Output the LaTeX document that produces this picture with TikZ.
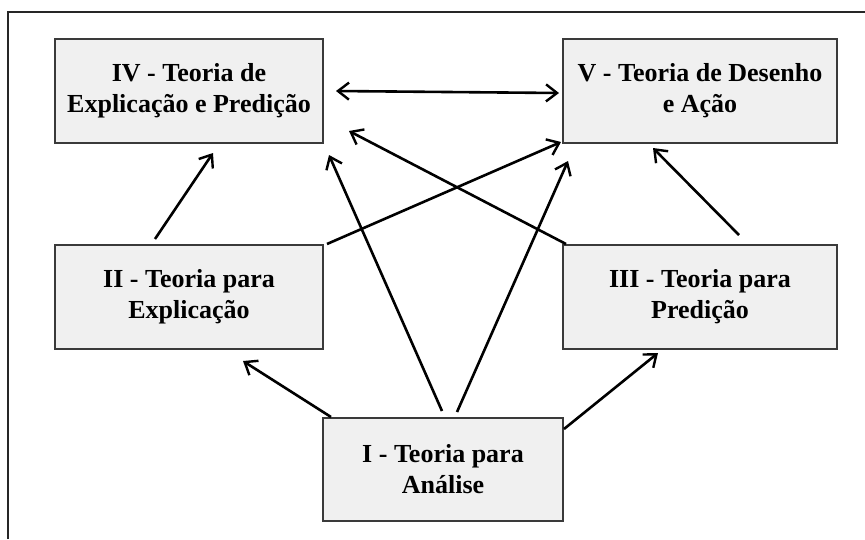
\documentclass[tikz,border=0pt]{standalone}
\usepackage{fontspec}
\setmainfont{Liberation Serif}
\usetikzlibrary{arrows.meta,calc}
\definecolor{boxfill}{HTML}{F0F0F0}
\definecolor{boxline}{HTML}{3A3A3A}
\begin{document}
\begin{tikzpicture}[x=1pt,y=-1pt,
  theory/.style={draw=boxline,line width=2pt,fill=boxfill,align=center,
    font=\fontsize{26}{31}\selectfont\bfseries,inner sep=0pt},
  arr/.style={line width=2.6pt,-{Straight Barb[length=11pt,width=17pt,line width=2.4pt]}},
  darr/.style={line width=2.6pt,{Straight Barb[length=11pt,width=17pt,line width=2.4pt]}-{Straight Barb[length=11pt,width=17pt,line width=2.4pt]}}]
\useasboundingbox (0,0) rectangle (865,539);
\fill[white] (0,0) rectangle (865,539);
\draw[line width=1.6pt,draw=black!85] (8,539) -- (8,12) -- (865,12);

\node[theory,minimum width=268pt,minimum height=104pt] (IV) at (189,91) {IV - Teoria de\\Explicação e Predição};
\node[theory,minimum width=274pt,minimum height=104pt] (V) at (700,91) {V - Teoria de Desenho\\e Ação};
\node[theory,minimum width=268pt,minimum height=104pt] (II) at (189,297) {II - Teoria para\\Explicação};
\node[theory,minimum width=274pt,minimum height=104pt] (III) at (700,297) {III - Teoria para\\Predição};
\node[theory,minimum width=240pt,minimum height=103pt] (I) at (443,469.5) {I - Teoria para\\Análise};

\draw[darr] ($(IV.east)+(12,0)$) -- ($(V.west)+(-3,2)$);
\draw[arr] ($(II.north)+(-34,-5)$) -- ($(IV.south)+(24,9)$);
\draw[arr] ($(II.north east)+(3,0)$) -- ($(V.south west)+(-1,-2)$);
\draw[arr] ($(I.north)+(-1,-6)$) -- ($(IV.south east)+(5,11)$);
\draw[arr] ($(I.north)+(14,-5)$) -- ($(V.south west)+(6,17)$);
\draw[arr] ($(III.north west)+(4,0)$) -- ($(IV.south east)+(25,-13)$);
\draw[arr] ($(III.north)+(39,-9)$) -- ($(V.south)+(-47,4)$);
\draw[arr] ($(I.north west)+(9,0)$) -- ($(II.south)+(54,11)$);
\draw[arr] ($(I.north east)+(0,12)$) -- ($(III.south)+(-42,3)$);
\end{tikzpicture}
\end{document}
